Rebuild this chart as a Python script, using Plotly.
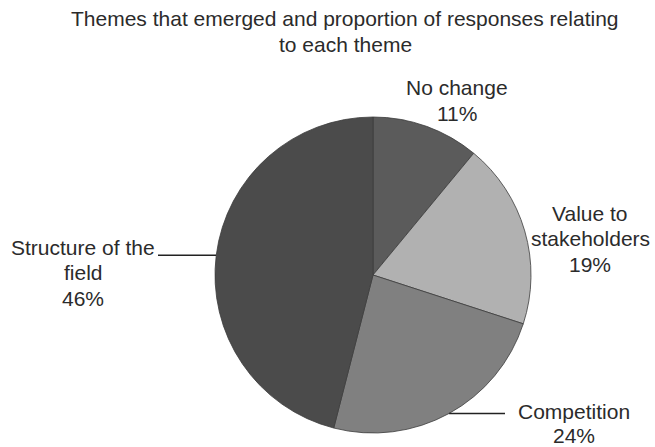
import math
import plotly.graph_objects as go

# ---- data ----
themes = ["No change", "Value to stakeholders", "Competition", "Structure of the field"]
shares = [11, 19, 24, 46]
label_text = [["No change"], ["Value to", "stakeholders"], ["Competition"], ["Structure of the", "field"]]
title_lines = ["Themes that emerged and proportion of responses relating", "to each theme"]
slice_colors = ["#5b5b5b", "#b1b1b1", "#808080", "#4b4b4b"]

# ---- layout constants (pixels in the 655x447 window) ----
W, H = 655, 447
CX, CY, R = 373, 275, 158
FONT = "Arial, 'Liberation Sans', Helvetica, sans-serif"
TXT = "#2b2b2b"
LINE_GAP = 25.5
label_pos = [(457, 88), (590, 213), (574, 411), (83, 247)]
leader_end_x = {2: 505, 3: 158}


def px(x):
    return x / W


def py(y):
    return 1 - y / H


fig = go.Figure(go.Pie(
    labels=themes,
    values=shares,
    sort=False,
    direction="clockwise",
    rotation=0,
    textinfo="none",
    hoverinfo="label+percent",
    marker=dict(colors=slice_colors, line=dict(color="#3c3c3c", width=0.8)),
    domain=dict(x=[px(CX - R), px(CX + R)], y=[py(CY + R), py(CY - R)]),
    showlegend=False,
))

annotations = []
for i, line in enumerate(title_lines):
    annotations.append(dict(
        x=px(345), y=py(19 + i * 26), xref="paper", yref="paper",
        text=line, showarrow=False, xanchor="center", yanchor="middle",
        font=dict(family=FONT, size=21, color=TXT),
    ))

shapes = []
total = sum(shares)
cum = 0
for i, v in enumerate(shares):
    lines = label_text[i] + [f"{round(100 * v / total)}%"]
    lx, ly = label_pos[i]
    gap = 24.5 if i == 2 else LINE_GAP
    for j, t in enumerate(lines):
        annotations.append(dict(
            x=px(lx), y=py(ly + j * gap), xref="paper", yref="paper",
            text=t, showarrow=False, xanchor="center", yanchor="middle",
            font=dict(family=FONT, size=21, color=TXT),
        ))
    mid = (cum + v / 2) / total * 2 * math.pi
    cum += v
    if i in leader_end_x:
        sx = CX + R * math.sin(mid)
        sy = CY - R * math.cos(mid)
        shapes.append(dict(
            type="line", xref="paper", yref="paper",
            x0=px(sx), y0=py(sy), x1=px(leader_end_x[i]), y1=py(sy),
            line=dict(color="#222222", width=1.6),
        ))

fig.update_layout(
    width=W, height=H, autosize=False,
    margin=dict(l=0, r=0, t=0, b=0),
    paper_bgcolor="white", plot_bgcolor="white",
    annotations=annotations, shapes=shapes,
)

fig.write_html(
    "out.html",
    config={"displayModeBar": False},
    post_script="document.body.style.margin='0';document.body.style.overflow='hidden';",
)
